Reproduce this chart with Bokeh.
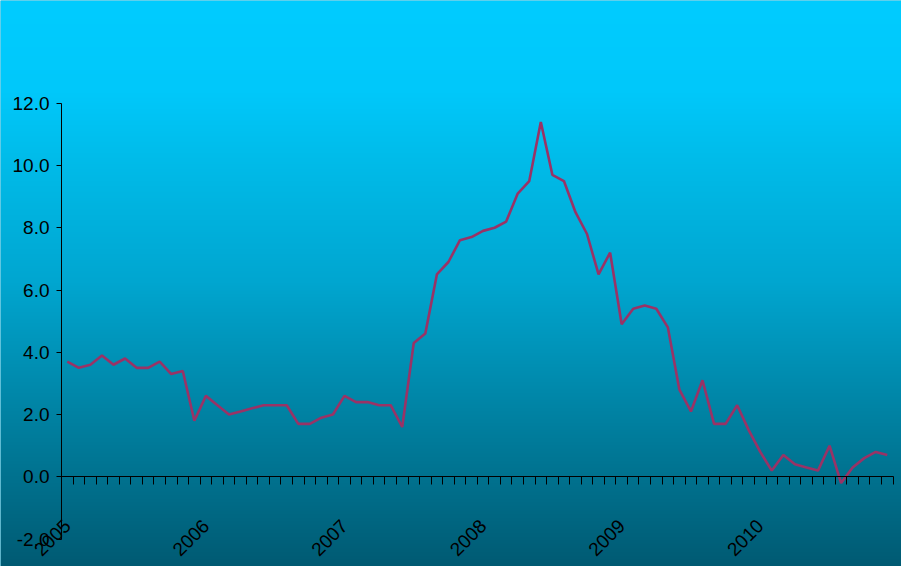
import numpy as np
from math import pi
from bokeh.plotting import figure
from bokeh.models import Range1d, LinearAxis, FixedTicker, NumeralTickFormatter
from bokeh.embed import file_html
from bokeh.resources import INLINE

# ---- data ----
years = ["2005", "2006", "2007", "2008", "2009", "2010"]
months_per_year = 12
values = [3.7, 3.5, 3.6, 3.9, 3.6, 3.8, 3.5, 3.5, 3.7, 3.3, 3.4, 1.8,
          2.6, 2.3, 2.0, 2.1, 2.2, 2.3, 2.3, 2.3, 1.7, 1.7, 1.9, 2.0,
          2.6, 2.4, 2.4, 2.3, 2.3, 1.6, 4.3, 4.6, 6.5, 6.9, 7.6, 7.7,
          7.9, 8.0, 8.2, 9.1, 9.5, 11.4, 9.7, 9.5, 8.5, 7.8, 6.5, 7.2,
          4.9, 5.4, 5.5, 5.4, 4.8, 2.8, 2.1, 3.1, 1.7, 1.7, 2.3, 1.5,
          0.8, 0.2, 0.7, 0.4, 0.3, 0.2, 1.0, -0.2, 0.3, 0.6, 0.8, 0.7]
y_ticks = [-2, 0, 2, 4, 6, 8, 10, 12]

# ---- layout ----
W, H = 901, 566
x0, x1 = -5.784, 72.23
y0, y1 = -2.881, 15.30
FONT = "Liberation Sans"

p = figure(width=W, height=H, output_backend="svg", toolbar_location=None,
           x_range=Range1d(x0, x1), y_range=Range1d(y0, y1),
           x_axis_type=None, y_axis_type=None, min_border=0,
           outline_line_color=None, border_fill_color="#00A6D0",
           background_fill_color="#00A6D0")

# vertical gradient background (screen rows -> colour)
stop_y = [0, 92, 152, 282, 422, 574]
stop_g = [204, 200, 189, 166, 128, 88]
stop_b = [255, 250, 235, 208, 160, 112]
rows = np.arange(H)[::-1]  # image row 0 is at the bottom
img = np.zeros((H, 2), dtype=np.uint32)
view = img.view(dtype=np.uint8).reshape((H, 2, 4))
view[:, :, 0] = 0
view[:, :, 1] = np.interp(rows, stop_y, stop_g).astype(np.uint8)[:, None]
view[:, :, 2] = np.interp(rows, stop_y, stop_b).astype(np.uint8)[:, None]
view[:, :, 3] = 255
p.image_rgba(image=[img], x=x0, y=y0, dw=x1 - x0, dh=y1 - y0)

# data line
xs = list(range(len(values)))
p.line(xs, values, line_color="#993366", line_width=2.6)

# y axis
yaxis = LinearAxis(fixed_location=-0.5, bounds=(min(y_ticks), max(y_ticks)),
                   ticker=FixedTicker(ticks=y_ticks),
                   formatter=NumeralTickFormatter(format="0.0"),
                   major_tick_out=5, major_tick_in=0,
                   minor_tick_out=0, minor_tick_in=0,
                   axis_line_color="black", major_tick_line_color="black",
                   major_label_text_font=FONT, major_label_text_font_size="19px",
                   major_label_text_color="black", major_label_standoff=7)
p.add_layout(yaxis, "left")

# x axis: tick marks at month boundaries
boundaries = [i - 0.5 for i in range(len(values) + 1)]
xticks = LinearAxis(fixed_location=0, bounds=(boundaries[0], boundaries[-1]),
                    ticker=FixedTicker(ticks=boundaries),
                    major_tick_out=8, major_tick_in=0,
                    minor_tick_out=0, minor_tick_in=0,
                    axis_line_color="black", major_tick_line_color="black",
                    major_label_text_color=None)
p.add_layout(xticks, "below")

# x axis: year labels
label_ticks = [k * months_per_year for k in range(len(years))]
xlabels = LinearAxis(fixed_location=0, ticker=FixedTicker(ticks=label_ticks),
                     major_label_overrides={t: y for t, y in zip(label_ticks, years)},
                     major_tick_out=0, major_tick_in=0,
                     minor_tick_out=0, minor_tick_in=0,
                     axis_line_color=None, major_tick_line_color=None,
                     major_label_orientation=pi / 4,
                     major_label_text_font=FONT, major_label_text_font_size="19px",
                     major_label_text_color="black", major_label_standoff=46)
p.add_layout(xlabels, "below")

open("out.html", "w").write(file_html(p, INLINE))
